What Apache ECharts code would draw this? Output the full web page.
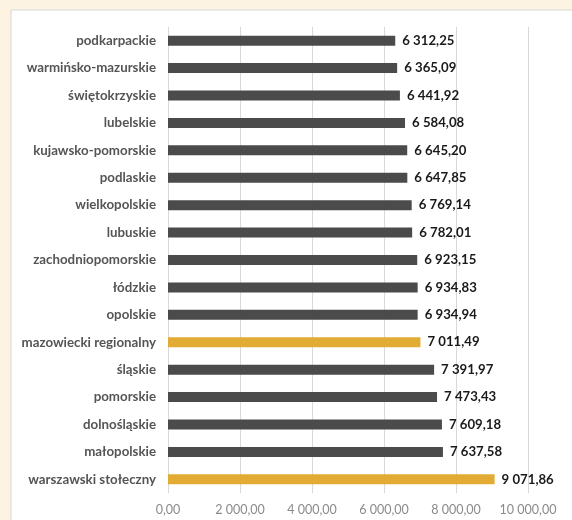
<!DOCTYPE html>
<html>
<head>
<meta charset="utf-8">
<script src="https://cdn.jsdelivr.net/npm/echarts@6/dist/echarts.min.js"></script>
<style>
  html, body { margin: 0; padding: 0; background: #fcf3e2; }
  #chart { width: 572px; height: 520px; }
</style>
</head>
<body>
<div id="chart"></div>
<script>
// od góry do dołu, tak jak na rysunku
var regions = ['podkarpackie', 'warmińsko-mazurskie', 'świętokrzyskie', 'lubelskie',
  'kujawsko-pomorskie', 'podlaskie', 'wielkopolskie', 'lubuskie', 'zachodniopomorskie',
  'łódzkie', 'opolskie', 'mazowiecki regionalny', 'śląskie', 'pomorskie',
  'dolnośląskie', 'małopolskie', 'warszawski stołeczny'];
var wages = [6312.25, 6365.09, 6441.92, 6584.08, 6645.20, 6647.85, 6769.14, 6782.01,
  6923.15, 6934.83, 6934.94, 7011.49, 7391.97, 7473.43, 7609.18, 7637.58, 9071.86];
var highlighted = ['mazowiecki regionalny', 'warszawski stołeczny'];
var xTicks = [0, 2000, 4000, 6000, 8000, 10000];

function fmt(v) {
  var parts = v.toFixed(2).split('.');
  var intPart = parts[0].replace(/\B(?=(\d{3})+(?!\d))/g, ' ');
  return intPart + ',' + parts[1];
}

var chart = echarts.init(document.getElementById('chart'));

var barData = wages.map(function (v, i) {
  var gold = highlighted.indexOf(regions[i]) >= 0;
  return { value: v, itemStyle: { color: gold ? '#e2ab33' : '#4b4b4b' } };
});

var option = {
  animation: false,
  textStyle: { fontFamily: 'Lato, "Open Sans", sans-serif' },
  graphic: [{
    type: 'rect',
    z: -10,
    shape: { x: 11, y: 10, width: 570, height: 520 },
    style: { fill: '#ffffff', stroke: '#d6d6d6', lineWidth: 1 }
  }],
  grid: { left: 168, right: 44, top: 27, bottom: 27 },
  xAxis: {
    type: 'value',
    min: xTicks[0],
    max: xTicks[xTicks.length - 1],
    interval: 2000,
    axisLine: { show: false },
    axisTick: { show: false },
    splitLine: { lineStyle: { color: '#d9d9d9', width: 1 } },
    axisLabel: {
      color: '#8a8a8a',
      fontSize: 12.5,
      margin: 10,
      formatter: function (v) { return fmt(v); }
    }
  },
  yAxis: {
    type: 'category',
    inverse: true,
    data: regions,
    axisLine: { show: false },
    axisTick: { show: false },
    axisLabel: {
      color: '#555555',
      fontSize: 13.3,
      fontWeight: 'bold',
      margin: 12
    }
  },
  series: [{
    type: 'bar',
    data: barData,
    barWidth: 10,
    label: {
      show: true,
      position: 'right',
      distance: 7,
      color: '#1a1a1a',
      fontSize: 13.2,
      fontWeight: 'bold',
      formatter: function (p) { return fmt(p.value); }
    }
  }]
};

chart.setOption(option);
</script>
</body>
</html>
